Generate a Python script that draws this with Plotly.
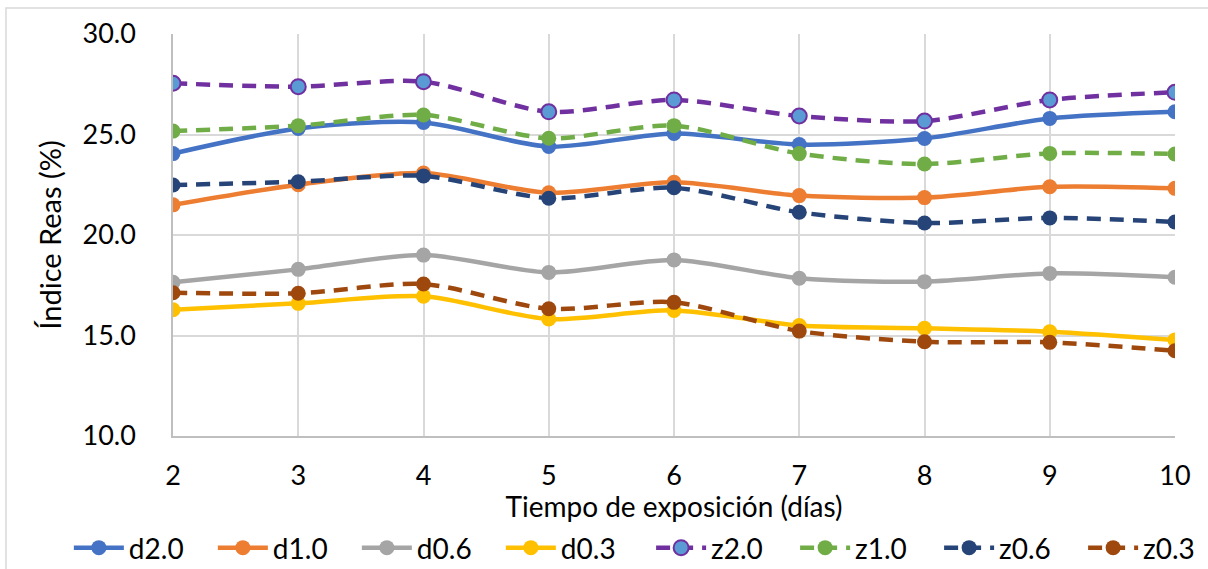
import plotly.graph_objects as go

dias = [2, 3, 4, 5, 6, 7, 8, 9, 10]

d2_0 = [24.05, 25.3, 25.6, 24.4, 25.05, 24.5, 24.8, 25.8, 26.13]
d1_0 = [21.5, 22.5, 23.08, 22.1, 22.62, 21.96, 21.86, 22.4, 22.32]
d0_6 = [17.65, 18.29, 19.0, 18.14, 18.76, 17.85, 17.68, 18.09, 17.9]
d0_3 = [16.28, 16.6, 16.95, 15.82, 16.25, 15.5, 15.36, 15.19, 14.78]
z2_0 = [27.55, 27.38, 27.63, 26.13, 26.72, 25.92, 25.67, 26.72, 27.1]
z1_0 = [25.17, 25.44, 25.97, 24.81, 25.44, 24.05, 23.53, 24.06, 24.03]
z0_6 = [22.49, 22.65, 22.94, 21.83, 22.35, 21.13, 20.6, 20.85, 20.65]
z0_3 = [17.13, 17.1, 17.56, 16.33, 16.65, 15.22, 14.69, 14.66, 14.24]

y_ticks = [10, 15, 20, 25, 30]

# name, values, line colour, dash, marker fill, marker outline, legend
series = [
    ("d2.0", d2_0, "#4472C4", "solid", "#4472C4", None, "legend"),
    ("d1.0", d1_0, "#ED7D31", "solid", "#ED7D31", None, "legend"),
    ("d0.6", d0_6, "#A5A5A5", "solid", "#A5A5A5", None, "legend"),
    ("d0.3", d0_3, "#FFC000", "solid", "#FFC000", None, "legend"),
    ("z2.0", z2_0, "#7030A0", "14px,9px", "#5B9BD5", "#7030A0", "legend2"),
    ("z1.0", z1_0, "#70AD47", "14px,9px", "#70AD47", None, "legend2"),
    ("z0.6", z0_6, "#264478", "14px,9px", "#264478", None, "legend2"),
    ("z0.3", z0_3, "#9E480E", "14px,9px", "#9E480E", None, "legend2"),
]

FONT = "Lato, Carlito, sans-serif"

fig = go.Figure()
for name, vals, color, dash, fill, outline, leg in series:
    fig.add_trace(go.Scatter(
        x=dias, y=vals, name=name, mode="lines+markers", legend=leg,
        line=dict(color=color, width=4.5, dash=dash, shape="spline", smoothing=0.8),
        marker=dict(size=15, color=fill,
                    line=dict(color=outline or fill, width=2 if outline else 0)),
    ))

legend_style = dict(orientation="h", xref="container", yref="container",
                    xanchor="left", y=0.037, yanchor="middle",
                    font=dict(size=28), entrywidth=79, entrywidthmode="pixels",
                    itemwidth=50, tracegroupgap=0, bgcolor="rgba(0,0,0,0)")

fig.update_layout(
    width=1208, height=569,
    margin=dict(l=173, r=33, t=34, b=133, autoexpand=False),
    paper_bgcolor="white", plot_bgcolor="white",
    font=dict(family=FONT, size=27, color="black"),
    showlegend=True,
    legend=dict(x=0.057, **legend_style),
    legend2=dict(x=0.539, **legend_style),
    shapes=[dict(type="rect", xref="paper", yref="paper",
                 x0=-0.1667, x1=1.1, y0=-0.4, y1=1.0647,
                 line=dict(color="#D9D9D9", width=1.5), layer="below")],
)

fig.update_xaxes(
    range=[2, 10], tickvals=dias, ticks="", showgrid=True, gridcolor="#D9D9D9", gridwidth=1.5,
    showline=True, linecolor="#BFBFBF", linewidth=1.5, zeroline=False,
    ticklabelstandoff=15,
    title=dict(text="Tiempo de exposición (días)", standoff=18, font=dict(size=28)),
)
fig.update_yaxes(
    range=[10, 30], tickvals=y_ticks, tickformat=".1f", ticks="",
    showgrid=True, gridcolor="#D9D9D9", gridwidth=1.5,
    showline=True, linecolor="#BFBFBF", linewidth=1.5, zeroline=False,
    ticklabelstandoff=30,
    title=dict(text="Índice Reas (%)", standoff=12, font=dict(size=29)),
)

fig.write_html("out.html")
